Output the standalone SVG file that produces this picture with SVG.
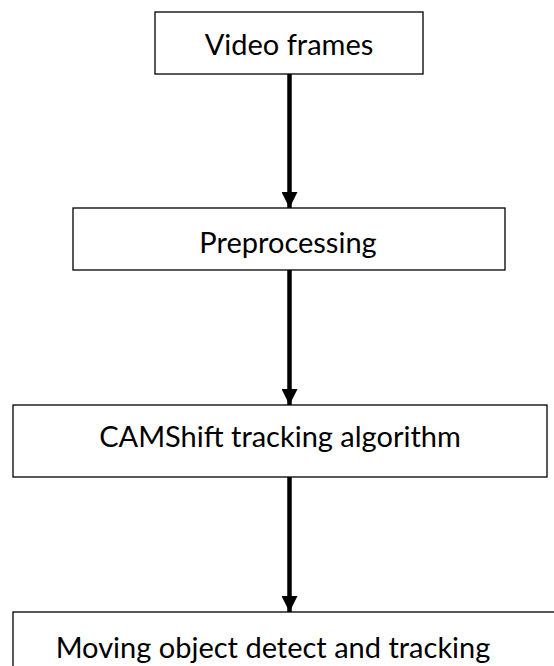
<svg xmlns="http://www.w3.org/2000/svg" width="554" height="666" viewBox="0 0 554 666">
  <style>
    .box { fill: #ffffff; stroke: #000000; stroke-width: 1.3; }
    .label { font-family: "Lato", "Liberation Sans", sans-serif; font-size: 29px; fill: #000000; text-anchor: middle; }
    .conn { stroke: #000000; stroke-width: 4.5; fill: none; }
  </style>
  <defs>
    <marker id="arrow" markerUnits="userSpaceOnUse" markerWidth="16" markerHeight="16" refX="16" refY="8" orient="auto">
      <path d="M0,0 L16,8 L0,16 Z" fill="#000000"/>
    </marker>
  </defs>
  <rect width="554" height="666" fill="#ffffff"/>

  <g id="connectors">
    <line class="conn" x1="289.5" y1="74" x2="289.5" y2="208" marker-end="url(#arrow)"/>
    <line class="conn" x1="289.5" y1="270" x2="289.5" y2="405" marker-end="url(#arrow)"/>
    <line class="conn" x1="289.5" y1="477" x2="289.5" y2="612" marker-end="url(#arrow)"/>
  </g>

  <g id="video-frames">
    <rect class="box" x="155" y="12" width="268" height="62"/>
    <text class="label" x="289" y="55">Video frames</text>
  </g>

  <g id="preprocessing">
    <rect class="box" x="73" y="208" width="432" height="62"/>
    <text class="label" x="288" y="253">Preprocessing</text>
  </g>

  <g id="camshift">
    <rect class="box" x="13" y="405" width="534" height="72"/>
    <text class="label" x="280" y="447">CAMShift tracking algorithm</text>
  </g>

  <g id="moving-object">
    <rect class="box" x="13" y="612" width="560" height="80"/>
    <text class="label" x="273" y="658">Moving object detect and tracking</text>
  </g>
</svg>
